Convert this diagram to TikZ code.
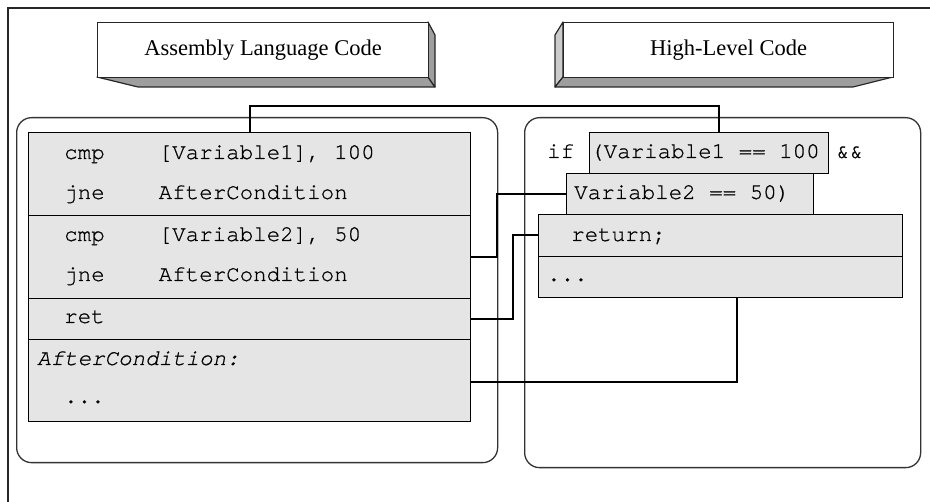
\documentclass[tikz,border=0pt]{standalone}
\usepackage{fontspec}
\setmainfont{Liberation Serif}
\setmonofont{texgyrecursor}[Extension=.otf,UprightFont=*-regular,ItalicFont=*-italic,BoldFont=*-bold,BoldItalicFont=*-bolditalic,FakeBold=0.7]
\begin{document}
\begin{tikzpicture}[x=1pt,y=-1pt,
  frame/.style={line width=1.2pt,draw=black!85},
  rbox/.style={draw=black!80,line width=1.3pt,rounded corners=15pt,inner sep=0pt,anchor=north west},
  blk/.style={draw=black,line width=1.2pt,fill=black!10,inner sep=0pt,anchor=north west},
  lab/.style={draw=black!85,line width=1.2pt,fill=white,inner sep=0pt,anchor=north west,font=\fontsize{22.5}{24}\selectfont},
  sidedark/.style={fill=black!38,draw=black!85,line width=1.2pt,line join=round},
  sidelight/.style={fill=black!20,draw=black!85,line width=1.2pt,line join=round},
  code/.style={inner sep=0pt,anchor=base west,font=\fontsize{22.5}{24}\ttfamily},
  conn/.style={draw=black,line width=2pt}]
\useasboundingbox (0,0) rectangle (930,502);
% outer frame
\coordinate (ftl) at (8,8);
\coordinate (ftr) at (930,8);
\coordinate (fbl) at (8,502);
\draw[frame] (fbl) -- (ftl) -- (ftr);

% label box: Assembly
\draw[sidedark] (97,77) -- (428,77) -- (435,87) -- (138,87) -- cycle;
\draw[sidedark] (428,22) -- (435,35) -- (435,87) -- (428,77) -- cycle;
\node[lab,minimum width=331,minimum height=55] (asm) at (97,22) {Assembly Language Code};

% label box: High-Level
\draw[sidelight] (563,22) -- (555,35) -- (555,87) -- (563,77) -- cycle;
\draw[sidedark] (563,77) -- (893,77) -- (853,87) -- (555,87) -- cycle;
\node[lab,minimum width=330,minimum height=55] (hl) at (563,22) {High-Level Code};

% rounded containers
\node[rbox,minimum width=481,minimum height=345] (L) at (16,117) {};
\node[rbox,minimum width=396,minimum height=350] (R) at (524,117) {};

% left blocks
\node[blk,minimum width=442,minimum height=83] (b1) at (28,132) {};
\node[blk,minimum width=442,minimum height=83] (b2) at (28,215) {};
\node[blk,minimum width=442,minimum height=41] (b3) at (28,298) {};
\node[blk,minimum width=442,minimum height=82] (b4) at (28,339) {};

\node[code] (t1) at (64,159) {cmp\ \ \ \ [Variable1], 100};
\node[code] (t2) at (64,199) {jne\ \ \ \ AfterCondition};
\node[code] (t3) at (64,241) {cmp\ \ \ \ [Variable2], 50};
\node[code] (t4) at (64,281) {jne\ \ \ \ AfterCondition};
\node[code] (t5) at (64,323) {ret};
\node[code,font=\fontsize{22.5}{24}\ttfamily\itshape] (t6) at (37,365) {AfterCondition:};
\node[code] (t7) at (64,403) {...};

% right blocks
\node[blk,minimum width=239,minimum height=41] (v1) at (589,132) {};
\node[blk,minimum width=247,minimum height=41] (v2) at (566,173) {};
\node[blk,minimum width=364,minimum height=42] (rt) at (538,214) {};
\node[blk,minimum width=364,minimum height=41] (dt) at (538,256) {};

\node[code] (rif) at (547,158) {if};
\node[code] (rv1) at (590,158) {(Variable1 == 100};
\node[code] (ramp) at (836,158) {\&\&};
\node[code] (rv2) at (574,199) {Variable2 == 50)};
\node[code] (rret) at (571,241) {return;};
\node[code] (rdots) at (547,281) {...};

% connectors
\coordinate (c1top) at ([xshift=9.5pt]v1.north);
\draw[conn] (b1.north) |- (c1top |- 0,106) -- (c1top);
\draw[conn] (b2.east) -- ++(26,0) |- (v2.west);
\draw[conn] (b3.east) -- ++(42,0) |- ([yshift=1pt]rt.west);
\coordinate (c4bot) at ([xshift=16pt]dt.south);
\draw[conn] ([yshift=-1pt]b4.east) -| (c4bot);
\end{tikzpicture}
\end{document}
